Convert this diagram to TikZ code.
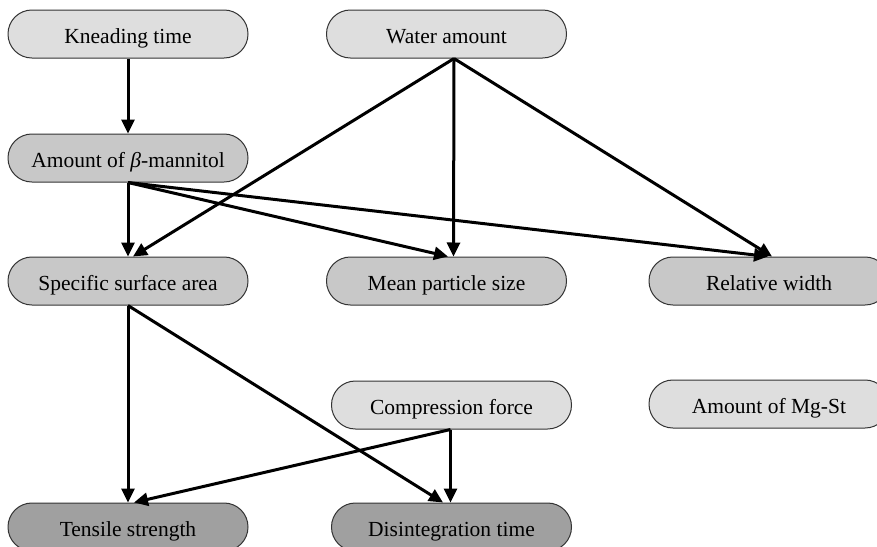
\documentclass[tikz,border=0pt]{standalone}
\usepackage{fontspec}
\setmainfont{Liberation Serif}
\usetikzlibrary{arrows.meta,calc}
\definecolor{lightfill}{HTML}{DEDEDE}
\definecolor{midfill}{HTML}{C8C8C8}
\definecolor{darkfill}{HTML}{A0A0A0}
\definecolor{edgegray}{HTML}{333333}
\tikzset{
  pill/.style={draw=edgegray, line width=1pt, rounded corners=23.9pt,
    minimum width=240pt, minimum height=48pt, inner sep=0pt,
    text height=20pt, text depth=2pt,
    font=\fontsize{21.5}{24}\selectfont},
  inpill/.style={pill, fill=lightfill},
  midpill/.style={pill, fill=midfill},
  outpill/.style={pill, fill=darkfill},
  arr/.style={line width=3pt, -{Triangle[length=14pt,width=13pt]}},
}
\begin{document}
\begin{tikzpicture}[x=1pt,y=-1pt]
\clip (0,0) rectangle (877,546);
\useasboundingbox (0,0) rectangle (877,546);
\node[inpill] (kn) at (128,34) {Kneading time};
\node[inpill] (wa) at (446.5,34) {Water amount};
\node[midpill] (ma) at (128,158) {Amount of \textit{β}-mannitol};
\node[midpill] (ssa) at (128,281) {Specific surface area};
\node[midpill] (mps) at (446.5,281) {Mean particle size};
\node[midpill] (rw) at (769,281) {Relative width};
\node[inpill] (cf) at (451.5,405) {Compression force};
\node[inpill] (mg) at (769,404) {Amount of Mg-St};
\node[outpill] (ts) at (128,527) {Tensile strength};
\node[outpill] (dt) at (451.5,527) {Disintegration time};

\coordinate (wS) at ($(wa.south)+(7.5,0)$);
\coordinate (cS) at ($(cf.south)+(-1,0)$);

\draw[arr] (kn.south) -- (ma.north);
\draw[arr] (wS) -- ($(ssa.north)+(5,0)$);
\draw[arr] (wS) -- ($(mps.north)+(7,0)$);
\draw[arr] (wS) -- ($(rw.north)+(3,0)$);
\draw[arr] (ma.south) -- (ssa.north);
\draw[arr] (ma.south) -- ($(mps.north)+(1.5,0)$);
\draw[arr] (ma.south) -- ($(rw.north)+(-1,0)$);
\draw[arr] (ssa.south) -- (ts.north);
\draw[arr] (ssa.south) -- ($(dt.north)+(-8.5,0)$);
\draw[arr] (cS) -- ($(ts.north)+(6,0)$);
\draw[arr] (cS) -- ($(dt.north)+(-1,0)$);
\end{tikzpicture}
\end{document}
